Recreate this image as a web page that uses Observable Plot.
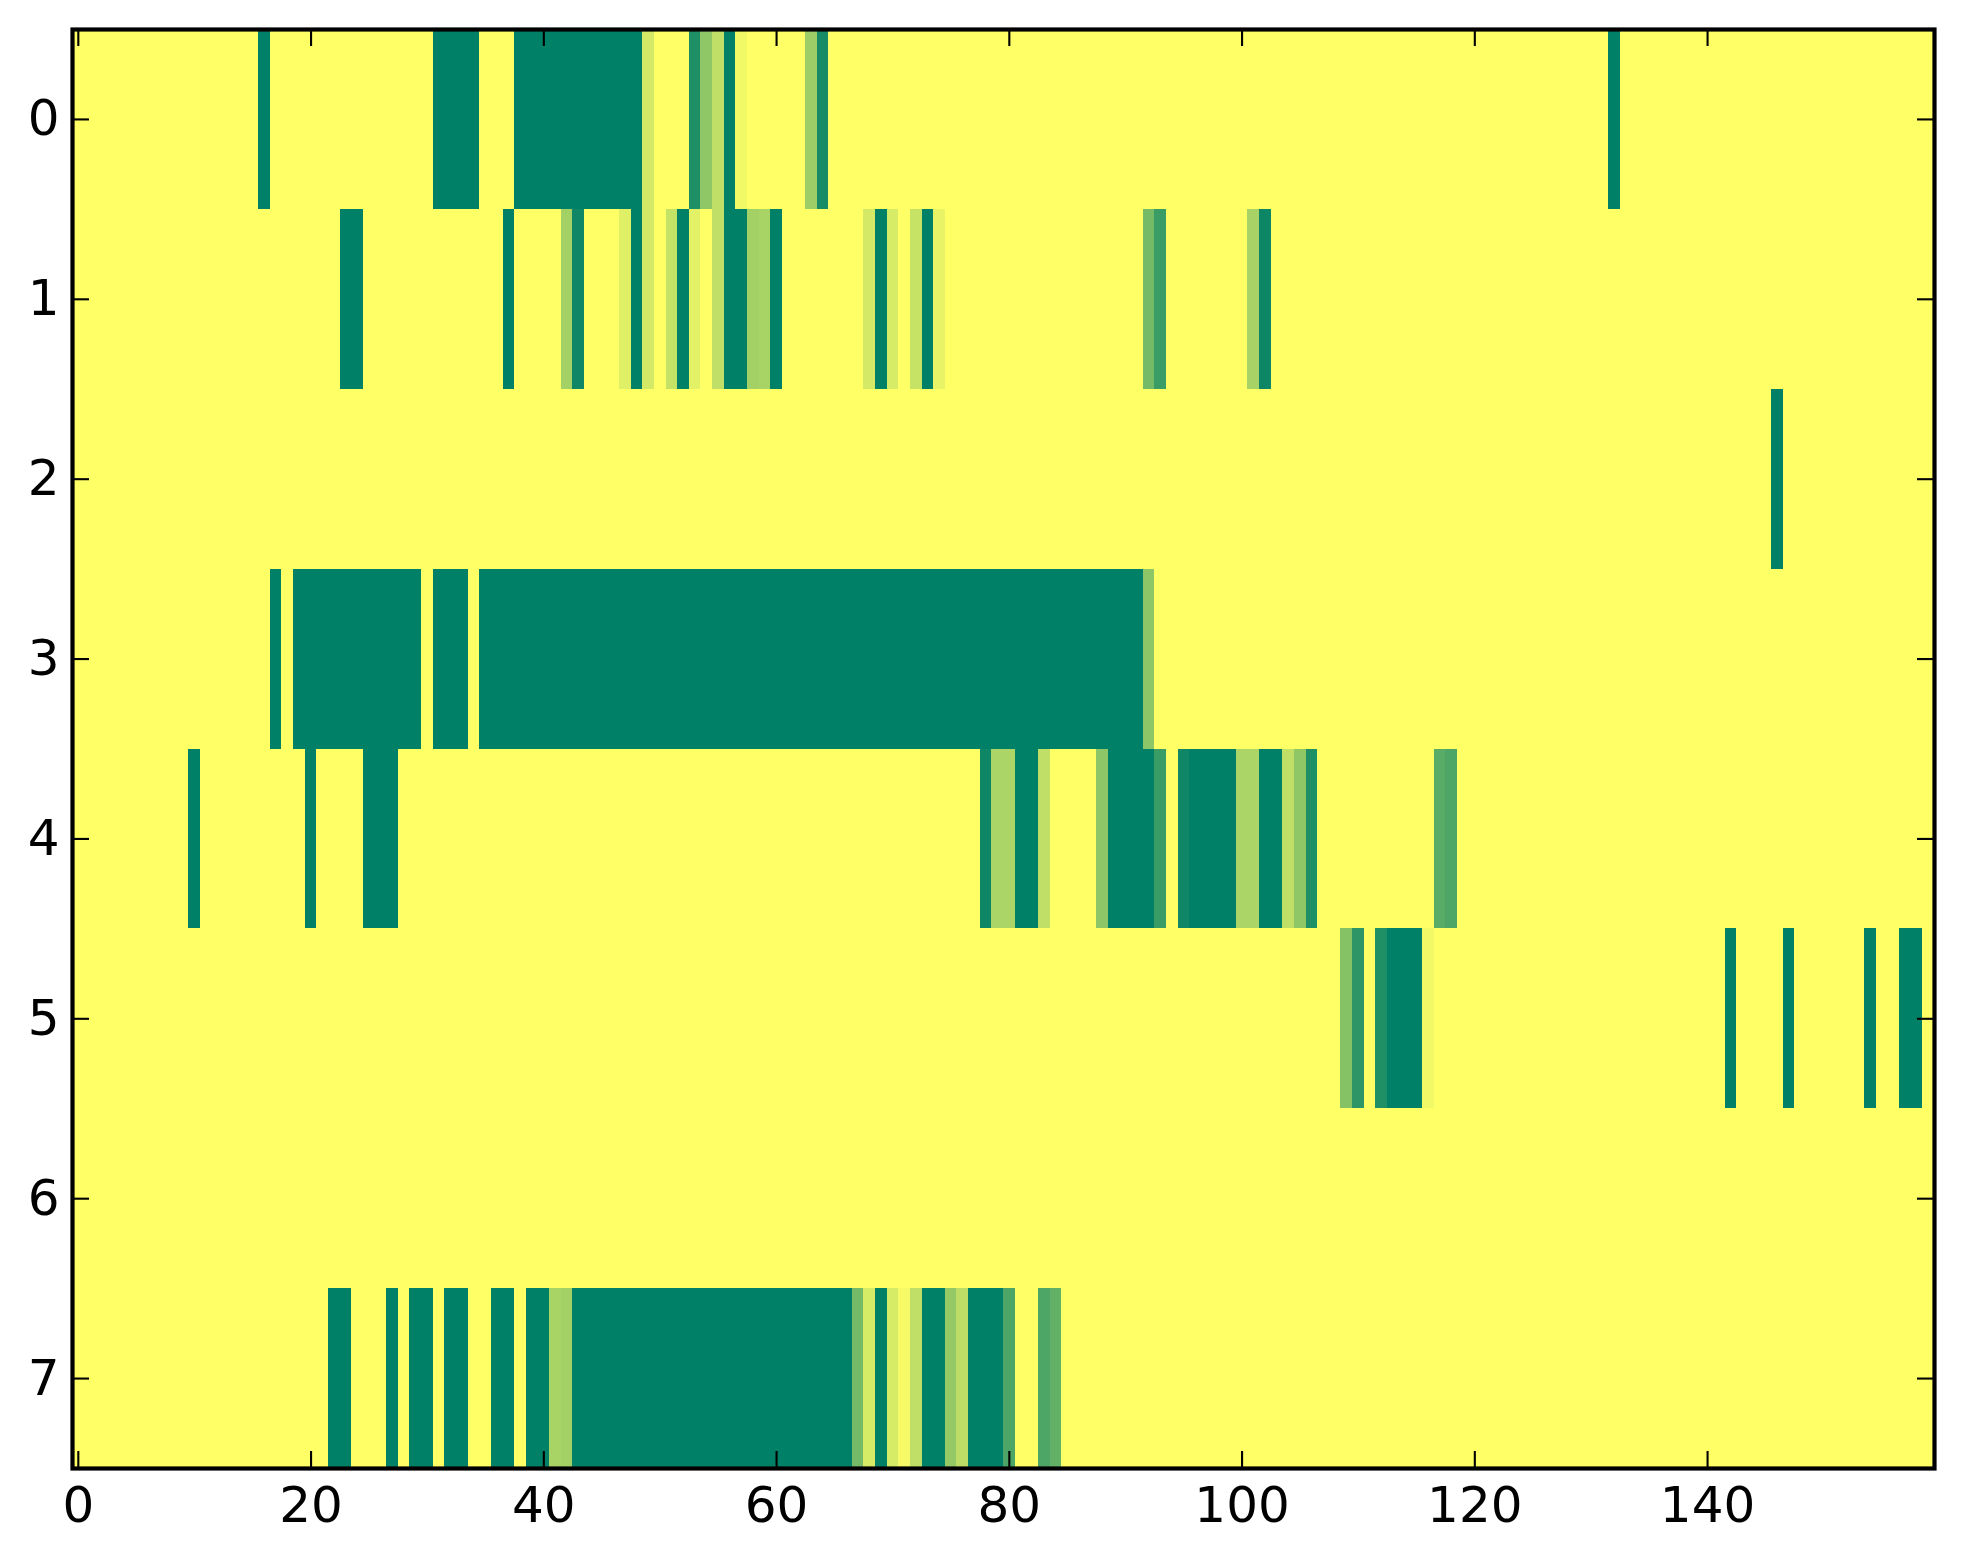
<!DOCTYPE html>
<html><head><meta charset="utf-8">
<script src="https://cdn.jsdelivr.net/npm/d3@7"></script>
<script src="https://cdn.jsdelivr.net/npm/@observablehq/plot@0.6"></script>
<style>body{margin:0;background:#fff} svg{display:block}</style>
</head><body><div id="chart"></div>
<script>
// number of columns of the image (0..159) and row labels
const nCols = 160;
const rowLabels = [0, 1, 2, 3, 4, 5, 6, 7];
const xTicks = [0, 20, 40, 60, 80, 100, 120, 140];

// Runs of non-maximal values per row: [firstCol, lastCol, value]; all other cells are 1 (yellow)
const row0 = [[16,16,0],[31,34,0],[38,48,0],[49,49,0.83],[53,53,0.12],[54,54,0.56],[55,55,0.75],
  [56,56,0],[57,57,0.95],[63,63,0.61],[64,64,0.09],[132,132,0]];
const row1 = [[23,24,0],[37,37,0],[42,42,0.64],[43,43,0.06],[47,47,0.88],[48,48,0],[49,49,0.83],
  [51,51,0.77],[52,52,0],[53,53,0.89],[55,55,0.75],[56,57,0],[58,58,0.64],[59,59,0.66],[60,60,0],
  [68,68,0.83],[69,69,0],[70,70,0.84],[72,72,0.78],[73,73,0],[74,74,0.91],
  [92,92,0.46],[93,93,0.23],[101,101,0.65],[102,102,0.05]];
const row2 = [[146,146,0]];
const row3 = [[17,17,0],[19,29,0],[31,33,0],[35,91,0],[92,92,0.55]];
const row4 = [[10,10,0],[20,20,0],[25,27,0],[78,78,0.06],[79,80,0.67],[81,82,0],[83,83,0.75],
  [88,88,0.55],[89,92,0],[93,93,0.23],[95,95,0.06],[96,99,0],[100,101,0.67],[102,103,0],
  [104,104,0.75],[105,105,0.56],[106,106,0.12],[117,117,0.35],[118,118,0.3]];
const row5 = [[109,109,0.52],[110,110,0.18],[112,112,0.12],[113,115,0],[116,116,0.95],
  [142,142,0],[147,147,0],[154,154,0],[157,158,0]];
const row6 = [];
const row7 = [[22,23,0],[27,27,0],[29,30,0],[32,33,0],[36,37,0],[39,40,0],[41,41,0.66],[42,42,0.64],
  [43,66,0],[67,67,0.46],[68,68,0.84],[69,69,0],[70,70,0.84],[71,71,0.96],[72,72,0.75],[73,74,0],
  [75,75,0.58],[76,76,0.74],[77,79,0],[80,80,0.3],[83,83,0.3],[84,84,0.39]];

const rows = [row0, row1, row2, row3, row4, row5, row6, row7];
const cells = [];
rows.forEach((runs, r) => {
  for (let c = 0; c < nCols; c++) {
    let v = 1;
    for (const [a, b, val] of runs) if (c >= a && c <= b) v = val;
    cells.push({row: r, col: c, value: v});
  }
});

const W = 1963, H = 1564, mL = 72, mR = 29, mT = 29, mB = 96;
const innerW = W - mL - mR, innerH = H - mT - mB;
const tickLen = 17;
// matplotlib "summer" colormap
const summer = t => `rgb(${Math.round(255 * t)},${Math.round(255 * (0.5 + 0.5 * t))},102)`;

const chart = Plot.plot({
  width: W, height: H,
  marginLeft: mL, marginRight: mR, marginTop: mT, marginBottom: mB,
  style: {fontFamily: "DejaVu Sans", fontSize: "50px", background: "white", color: "black"},
  x: {domain: [-0.5, nCols - 0.5]},
  y: {domain: [-0.5, rowLabels.length - 0.5], reverse: true},
  color: {type: "linear", domain: [0, 1], interpolate: summer},
  marks: [
    Plot.rect(cells, {
      x1: d => d.col - 0.5, x2: d => d.col + 0.5,
      y1: d => d.row - 0.5, y2: d => d.row + 0.5,
      fill: "value", shapeRendering: "crispEdges"
    }),
    Plot.ruleX(xTicks, {x: d => d, insetTop: innerH - tickLen, stroke: "black", strokeWidth: 2.1}),
    Plot.ruleX(xTicks, {x: d => d, insetBottom: innerH - tickLen, stroke: "black", strokeWidth: 2.1}),
    Plot.ruleY(rowLabels, {y: d => d, insetRight: innerW - tickLen, stroke: "black", strokeWidth: 2.1}),
    Plot.ruleY(rowLabels, {y: d => d, insetLeft: innerW - tickLen, stroke: "black", strokeWidth: 2.1}),
    Plot.axisX(xTicks, {anchor: "bottom", tickSize: 0, tickPadding: 18, fontSize: 50, label: null, tickFormat: d => String(d)}),
    Plot.axisY(rowLabels, {anchor: "left", tickSize: 0, tickPadding: 13, fontSize: 50, label: null, tickFormat: d => String(d)}),
    Plot.frame({stroke: "black", strokeWidth: 4.2})
  ]
});
document.getElementById("chart").appendChild(chart);
</script>
</body></html>
